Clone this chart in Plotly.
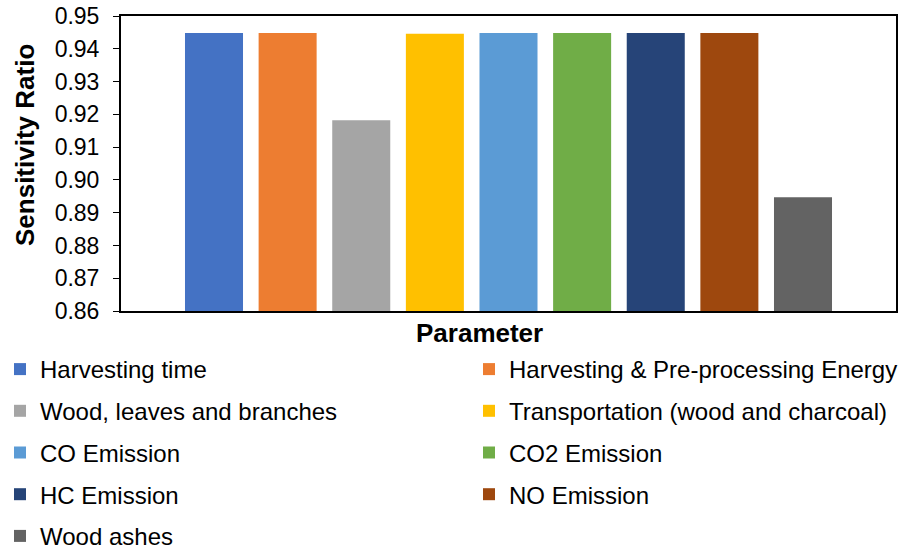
import plotly.graph_objects as go

series = ["Harvesting time", "Harvesting & Pre-processing Energy",
          "Wood, leaves and branches", "Transportation (wood and charcoal)",
          "CO Emission", "CO2 Emission", "HC Emission", "NO Emission", "Wood ashes"]
values = [0.9448, 0.9448, 0.9182, 0.9446, 0.9448, 0.9448, 0.9448, 0.9448, 0.8947]
colors = ["#4472C4", "#ED7D31", "#A5A5A5", "#FFC000", "#5B9BD5",
          "#70AD47", "#264478", "#9E480E", "#636363"]
category = ["Parameter"]
y_ticks = [0.86, 0.87, 0.88, 0.89, 0.90, 0.91, 0.92, 0.93, 0.94, 0.95]

FONT = "Liberation Sans, Arial, sans-serif"

fig = go.Figure()
for i, (name, v, c) in enumerate(zip(series, values, colors)):
    fig.add_trace(go.Bar(
        x=category, y=[v], name=name, marker=dict(color=c, line=dict(width=0)),
        legend="legend" if i % 2 == 0 else "legend2",
        legendgroup=name,
    ))

legend_common = dict(
    font=dict(family=FONT, size=24, color="black"),
    orientation="v", tracegroupgap=7.5, itemwidth=30,
    bgcolor="rgba(0,0,0,0)", borderwidth=0,
    xref="container", yref="container", xanchor="left", yanchor="top",
)

L, R, T, B = 121, 3, 16, 239
W, H = 899, 550
pw, ph = W - L - R, H - T - B

fig.update_layout(
    width=W, height=H,
    margin=dict(l=L, r=R, t=T, b=B, autoexpand=False),
    paper_bgcolor="white", plot_bgcolor="white",
    barmode="group", bargap=0.145, bargroupgap=0.212,
    font=dict(family=FONT, size=23, color="black"),
    showlegend=True,
    legend=dict(**legend_common, x=0.0, y=1 - 347 / H),
    legend2=dict(**legend_common, x=469 / W, y=1 - 347 / H),
    xaxis=dict(showticklabels=False, ticks="", showline=True, linecolor="black",
               linewidth=2, mirror=True, showgrid=False, zeroline=False),
    yaxis=dict(range=[0.86, 0.95], tickvals=y_ticks, tickformat=".2f",
               ticks="outside", ticklen=6, tickcolor="black", tickwidth=1,
               ticklabelstandoff=9,
               showline=True, linecolor="black", linewidth=2, mirror=True,
               showgrid=False, zeroline=False,
               tickfont=dict(family=FONT, size=23, color="black")),
    annotations=[
        dict(text="<b>Sensitivity Ratio</b>", textangle=-90,
             x=(25 - L) / pw, y=(H - B - 145) / ph,
             xref="paper", yref="paper", xanchor="center", yanchor="middle",
             showarrow=False,
             font=dict(family=FONT, size=26, color="black")),
        dict(text="<b>Parameter</b>",
             x=(479 - L) / pw, y=(H - B - 333) / ph,
             xref="paper", yref="paper", xanchor="center", yanchor="middle",
             showarrow=False,
             font=dict(family=FONT, size=26, color="black")),
    ],
)

fig.write_html("out.html", config={"displayModeBar": False},
               post_script="document.body.style.margin='0';document.body.style.overflow='hidden';")
